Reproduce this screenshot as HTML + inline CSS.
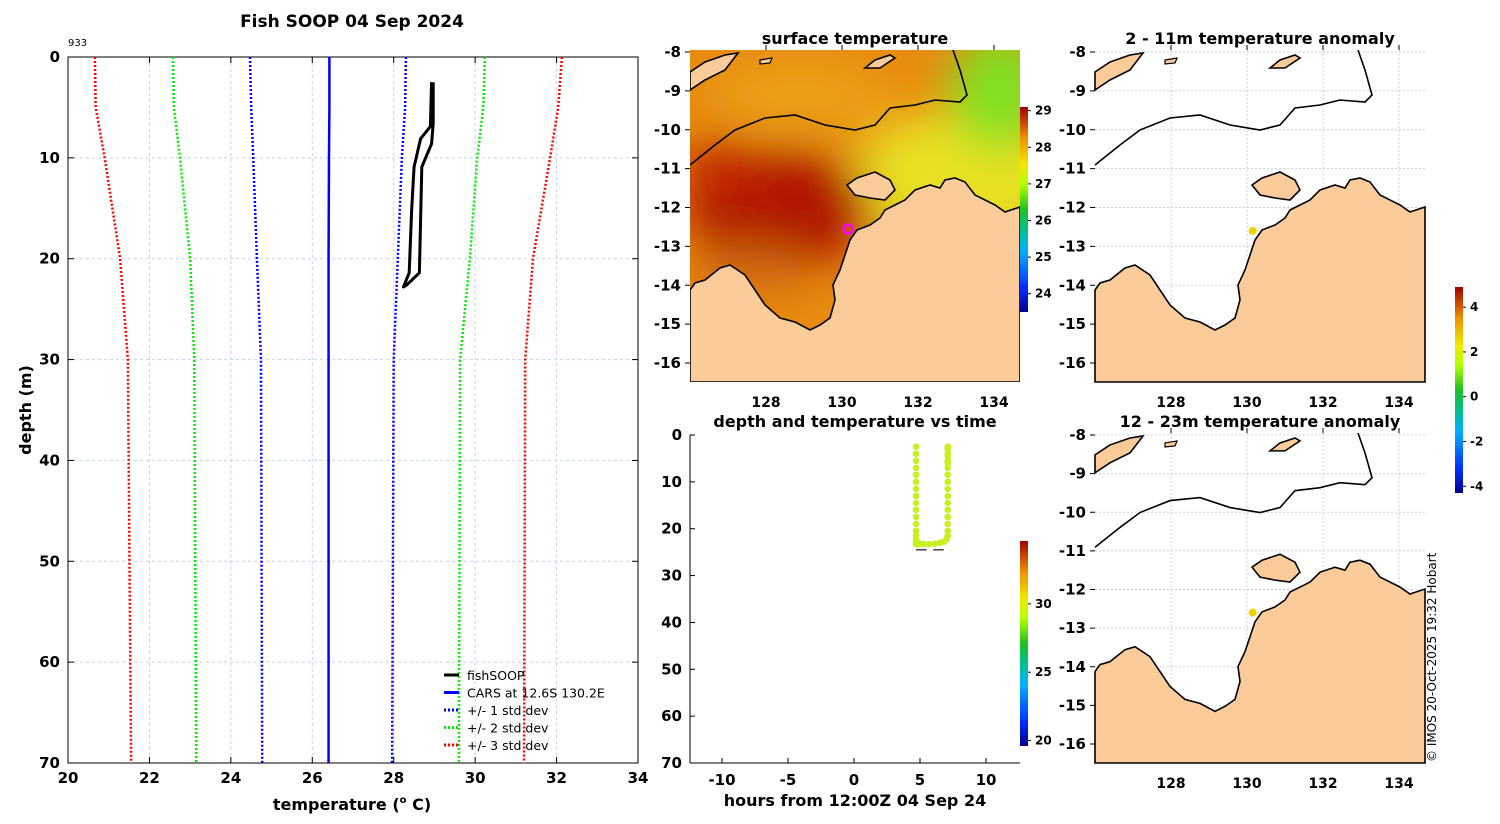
<!DOCTYPE html>
<html><head><meta charset="utf-8">
<style>
body{margin:0;background:#fff;width:1500px;height:820px;overflow:hidden;font-family:"DejaVu Sans","Liberation Sans",sans-serif;}
svg text{font-family:"DejaVu Sans","Liberation Sans",sans-serif;}
</style></head>
<body>
<svg id="fig" width="1500" height="820" xmlns="http://www.w3.org/2000/svg">
<defs>
<filter id="blur" x="-50%" y="-50%" width="200%" height="200%"><feGaussianBlur stdDeviation="22"/></filter>
<clipPath id="clipSST"><rect x="690" y="50" width="330" height="332"/></clipPath>
<linearGradient id="jet" x1="0" y1="1" x2="0" y2="0">
<stop offset="0" stop-color="#00008f"/><stop offset="0.12" stop-color="#0030ff"/><stop offset="0.3" stop-color="#00b0ff"/><stop offset="0.4" stop-color="#00c090"/><stop offset="0.5" stop-color="#20c020"/><stop offset="0.62" stop-color="#b0ff00"/><stop offset="0.72" stop-color="#f0e800"/><stop offset="0.85" stop-color="#f09000"/><stop offset="1" stop-color="#a00000"/>
</linearGradient>
<g id="coast">
<polygon points="0,240 5,233 15,230 30,218 40,215 55,225 65,240 75,255 90,268 105,272 120,280 130,275 140,268 145,250 143,235 150,220 155,205 160,190 167,180 180,175 190,168 195,160 205,155 215,150 225,140 240,135 250,138 255,130 265,128 275,132 285,145 305,155 315,162 330,157 330,332 0,332" fill="#fbcb9a" stroke="#000" stroke-width="1.6"/>
<polygon points="157,135 167,128 185,122 200,130 205,140 195,150 180,148 165,145" fill="#fbcb9a" stroke="#000" stroke-width="1.6"/>
<polygon points="0,22 15,12 35,5 48,3 35,20 15,30 0,40" fill="#fbcb9a" stroke="#000" stroke-width="1.6"/>
<polygon points="175,18 185,10 200,5 205,8 190,18" fill="#fbcb9a" stroke="#000" stroke-width="1.6"/>
<polygon points="70,10 82,8 80,13 70,14" fill="#fbcb9a" stroke="#000" stroke-width="1.2"/>
<polyline points="0,115 25,95 45,80 75,68 105,65 135,75 165,80 185,75 200,58 225,55 245,50 270,52 277,45 270,20 263,0" fill="none" stroke="#000" stroke-width="1.6"/>
</g>
</defs>

<text x="352" y="27" text-anchor="middle" font-size="17" font-weight="bold">Fish SOOP 04 Sep 2024</text>
<text x="68" y="46" font-size="10">933</text>
<g id="prof"></g>

<text x="855" y="44" text-anchor="middle" font-size="16" font-weight="bold">surface temperature</text>
<g clip-path="url(#clipSST)">
<rect x="690" y="50" width="330" height="332" fill="#e88a10"/>
<g filter="url(#blur)">
<ellipse cx="960" cy="180" rx="110" ry="70" fill="#e8e020"/>
<ellipse cx="1000" cy="90" rx="50" ry="60" fill="#80e020"/>
<ellipse cx="780" cy="210" rx="95" ry="60" fill="#b01800"/>
<ellipse cx="720" cy="170" rx="40" ry="30" fill="#c02800"/>
<ellipse cx="800" cy="95" rx="90" ry="35" fill="#eaa018"/>
<ellipse cx="750" cy="270" rx="60" ry="25" fill="#d06a10"/>
</g>
<use href="#coast" transform="translate(690,50)"/>
</g>
<circle cx="848" cy="229" r="4.5" fill="none" stroke="#ff00ff" stroke-width="2.5"/>
<rect x="1020" y="107" width="8" height="205" fill="url(#jet)"/>

<text x="1260" y="44" text-anchor="middle" font-size="16" font-weight="bold">2 - 11m temperature anomaly</text>
<g id="anomA"><rect x="1095" y="50" width="330" height="332" fill="#fff"/></g>
<text x="1260" y="427" text-anchor="middle" font-size="16" font-weight="bold">12 - 23m temperature anomaly</text>
<g id="anomB"><rect x="1095" y="433" width="330" height="330" fill="#fff"/></g>
<rect x="1455" y="287" width="8" height="206" fill="url(#jet)"/>

<text x="855" y="427" text-anchor="middle" font-size="16" font-weight="bold">depth and temperature vs time</text>
<g id="dt"></g>
<rect x="1020" y="541" width="8" height="205" fill="url(#jet)"/>

<g id="maplabels" font-size="14" font-weight="bold"></g>
<text transform="translate(1436,762) rotate(-90)" font-size="12">© IMOS 20-Oct-2025 19:32 Hobart</text>
</svg>
<script>
const depthLevels=[0,5,10,20,30,70];
const carsMean=[26.42,26.42,26.41,26.40,26.40,26.40];
const plus1=[28.3,28.28,28.2,28.1,28.0,27.96];
const minus1=[24.47,24.5,24.55,24.64,24.74,24.77];
const plus2=[30.24,30.2,30.05,29.87,29.63,29.6];
const minus2=[22.58,22.6,22.75,23.0,23.1,23.15];
const plus3=[32.13,32.04,31.84,31.42,31.23,31.2];
const minus3=[20.66,20.68,20.9,21.28,21.47,21.55];
const soopDepth=[2.5,6.9,8.1,10.9,15.2,21.4,22.8,22.6,21.4,16.2,10.9,8.6,6.6,2.5];
const soopTemp=[28.93,28.9,28.66,28.5,28.44,28.38,28.24,28.32,28.63,28.66,28.69,28.93,28.97,28.97];
const xTicks=[20,22,24,26,28,30,32,34];
const yTicks=[0,10,20,30,40,50,60,70];
const dtHours=[4.7,4.7,4.7,4.7,4.7,4.7,4.7,4.7,4.7,4.7,4.7,4.7,4.7,4.7,4.7,4.7,4.7,4.7,4.8,5.0,5.3,5.7,6.1,6.5,6.8,7.0,7.1,7.1,7.1,7.1,7.1,7.1,7.1,7.1,7.1,7.1,7.1,7.1,7.1,7.1,7.1,7.1,7.1];
const dtDepths=[2.5,4,5.5,7,8.5,10,11.5,13,14.5,16,17.5,19,20.5,21.5,22.3,22.8,23.2,23.3,23.3,23.2,23.3,23.3,23.2,23.0,22.8,22.3,21.5,20.5,19,17.5,16,14.5,13,11.5,10,8.5,7,5.5,4,2.5,3,4.5,6];
const dtXTicks=[-10,-5,0,5,10];
const dtYTicks=[0,10,20,30,40,50,60,70];
const sstCbTicks=[29,28,27,26,25,24];
const anomCbTicks=[4,2,0,-2,-4];
const dtCbTicks=[30,25,20];
const lonTicks=[128,130,132,134];
const latTicks=[-8,-9,-10,-11,-12,-13,-14,-15,-16];
const markerLon=[130.15];
const markerLat=[-12.6];

const NS='http://www.w3.org/2000/svg';
function mk(p,t,a){const e=document.createElementNS(NS,t);for(const k in a)e.setAttribute(k,a[k]);p.appendChild(e);return e;}

const X0=68,X1=638,Y0=57,Y1=763;
const px=t=>X0+(t-20)/(34-20)*(X1-X0);
const py=d=>Y0+d/70*(Y1-Y0);
const prof=document.getElementById('prof');
xTicks.forEach(t=>{if(t>20&&t<34){const l=mk(prof,'line',{x1:px(t),x2:px(t),y1:Y0,y2:Y1,stroke:'#c8d0e8','stroke-dasharray':'3,3','stroke-width':1});

}});
yTicks.forEach(t=>{if(t>0&&t<70){const l=mk(prof,'line',{x1:X0,x2:X1,y1:py(t),y2:py(t),stroke:'#c8d0e8','stroke-dasharray':'3,3','stroke-width':1});

}});
mk(prof,'rect',{x:X0,y:Y0,width:X1-X0,height:Y1-Y0,fill:'none',stroke:'#000','stroke-width':1});
xTicks.forEach(t=>{mk(prof,'line',{x1:px(t),x2:px(t),y1:Y1,y2:Y1-6,stroke:'#000'});mk(prof,'line',{x1:px(t),x2:px(t),y1:Y0,y2:Y0+6,stroke:'#000'});
const tx=mk(prof,'text',{x:px(t),y:Y1+20,'text-anchor':'middle','font-size':15,'font-weight':'bold'});tx.textContent=t;

});
yTicks.forEach(t=>{mk(prof,'line',{x1:X0,x2:X0+6,y1:py(t),y2:py(t),stroke:'#000'});mk(prof,'line',{x1:X1,x2:X1-6,y1:py(t),y2:py(t),stroke:'#000'});
const tx=mk(prof,'text',{x:X0-8,y:py(t)+5,'text-anchor':'end','font-size':15,'font-weight':'bold'});tx.textContent=t;

});
const xt=mk(prof,'text',{x:352,y:810,'text-anchor':'middle','font-size':16,'font-weight':'bold'});
xt.innerHTML='temperature (<tspan font-size="10" dy="-7">o</tspan><tspan dy="7"> C)</tspan>';


const yt=mk(prof,'text',{transform:'translate(31,410) rotate(-90)','text-anchor':'middle','font-size':16,'font-weight':'bold'});yt.textContent='depth (m)';


function line(temps,depths,color,dash,w,name){
  const pts=temps.map((t,i)=>px(t)+','+py(depths[i])).join(' ');
  const l=mk(prof,'polyline',{points:pts,fill:'none',stroke:color,'stroke-width':w,'stroke-dasharray':dash||'none','stroke-linejoin':'round'});
  
  
}
line(minus3,depthLevels,'#f00','2,2',2.5,'minus-3-std-line');
line(plus3,depthLevels,'#f00','2,2',2.5,'plus-3-std-line');
line(minus2,depthLevels,'#0e0','2,2',2.5,'minus-2-std-line');
line(plus2,depthLevels,'#0e0','2,2',2.5,'plus-2-std-line');
line(minus1,depthLevels,'#00f','2,2',2.5,'minus-1-std-line');
line(plus1,depthLevels,'#00f','2,2',2.5,'plus-1-std-line');
line(carsMean,depthLevels,'#00f','',2.5,'cars-mean-line');
line(soopTemp,soopDepth,'#000','',3,'fishsoop-profile-line');
const leg=[['fishSOOP','#000',''],['CARS at 12.6S 130.2E','#00f',''],['+/- 1 std dev','#00f','2,2'],['+/- 2 std dev','#0e0','2,2'],['+/- 3 std dev','#f00','2,2']];
leg.forEach((L,i)=>{const y=675+i*17.5;
mk(prof,'line',{x1:444,x2:459,y1:y,y2:y,stroke:L[1],'stroke-width':3,'stroke-dasharray':L[2]||'none'});
const t=mk(prof,'text',{x:467,y:y+5,'font-size':12.5});t.textContent=L[0];

});

// anomaly map grids + coast
function anomMap(gid,x0,y0,w,h){
  const g=document.getElementById(gid);
  const sy=(h-21)/8;
  lonTicks.forEach(l=>{const x=x0+(l-126)*38;mk(g,'line',{x1:x,x2:x,y1:y0,y2:y0+h,stroke:'#c8d0e8','stroke-dasharray':'2,2'});});
  latTicks.forEach(l=>{const y=y0+2+(-8-l)*sy;mk(g,'line',{x1:x0,x2:x0+w,y1:y,y2:y,stroke:'#c8d0e8','stroke-dasharray':'2,2'});});
  mk(g,'use',{href:'#coast',transform:`translate(${x0},${y0}) scale(1,${h/332})`});
  markerLon.forEach((lo,i)=>{const c=mk(g,'circle',{cx:x0+(lo-126)*38,cy:y0+2+(-8-markerLat[i])*sy,r:4,fill:'#f0d000'});
  
  });
}
anomMap('anomA',1095,50,330,332);
anomMap('anomB',1095,433,330,330);

const ml=document.getElementById('maplabels');
function mapAxes(x0,y0,w,h){
  const sy=(h-21)/8;
  lonTicks.forEach(l=>{const x=x0+(l-126)*38;
    mk(ml,'line',{x1:x,x2:x,y1:y0,y2:y0-5,stroke:'#000'});
    const t=mk(ml,'text',{x:x,y:y0+h+25,'text-anchor':'middle'});t.textContent=l;
    
    });
  latTicks.forEach(l=>{const y=y0+2+(-8-l)*sy;
    mk(ml,'line',{x1:x0,x2:x0-5,y1:y,y2:y,stroke:'#000'});
    const t=mk(ml,'text',{x:x0-9,y:y+5,'text-anchor':'end','font-size':15});t.textContent=l;
    
    });
}
mapAxes(690,50,330,332);
mapAxes(1095,50,330,332);
mapAxes(1095,433,330,330);
function cb(ticks,x,y0,y1,lo,hi){ticks.forEach(v=>{const y=y1-(v-lo)/(hi-lo)*(y1-y0);
  mk(ml,'line',{x1:x,x2:x+3,y1:y,y2:y,stroke:'#000'});
  const t=mk(ml,'text',{x:x+7,y:y+4,'font-size':12});t.textContent=v;
  
  });}
cb(sstCbTicks,1028,107,312,23.5,29.1);
cb(anomCbTicks,1463,287,493,-4.3,4.9);
cb(dtCbTicks,1028,541,746,19.6,34.6);

const dt=document.getElementById('dt');
const DX0=690,DX1=1020,DY0=435,DY1=763;
const hx=h=>854+h*13.2;
const dy=d=>DY0+d/70*(DY1-DY0);
mk(dt,'line',{x1:DX0,x2:DX1,y1:DY1,y2:DY1,stroke:'#000'});
mk(dt,'line',{x1:DX0,x2:DX0,y1:DY0,y2:DY1,stroke:'#000'});
dtXTicks.forEach(h=>{mk(dt,'line',{x1:hx(h),x2:hx(h),y1:DY1,y2:DY1-5,stroke:'#000'});
const t=mk(dt,'text',{x:hx(h),y:DY1+22,'text-anchor':'middle','font-size':15,'font-weight':'bold'});t.textContent=h;

});
dtYTicks.forEach(d=>{mk(dt,'line',{x1:DX0,x2:DX0+5,y1:dy(d),y2:dy(d),stroke:'#000'});
const t=mk(dt,'text',{x:DX0-8,y:dy(d)+5,'text-anchor':'end','font-size':15,'font-weight':'bold'});t.textContent=d;

});
const dxt=mk(dt,'text',{x:855,y:806,'text-anchor':'middle','font-size':16,'font-weight':'bold'});dxt.textContent='hours from 12:00Z 04 Sep 24';


mk(dt,'line',{x1:hx(4.7),x2:hx(5.5),y1:dy(24.5),y2:dy(24.5),stroke:'#444','stroke-width':1.5});
mk(dt,'line',{x1:hx(6.0),x2:hx(6.8),y1:dy(24.5),y2:dy(24.5),stroke:'#444','stroke-width':1.5});
dtHours.forEach((h,i)=>{const c=mk(dt,'circle',{cx:hx(h),cy:dy(dtDepths[i]),r:3.3,fill:'#c8f020'});

});
</script>
</body></html>
